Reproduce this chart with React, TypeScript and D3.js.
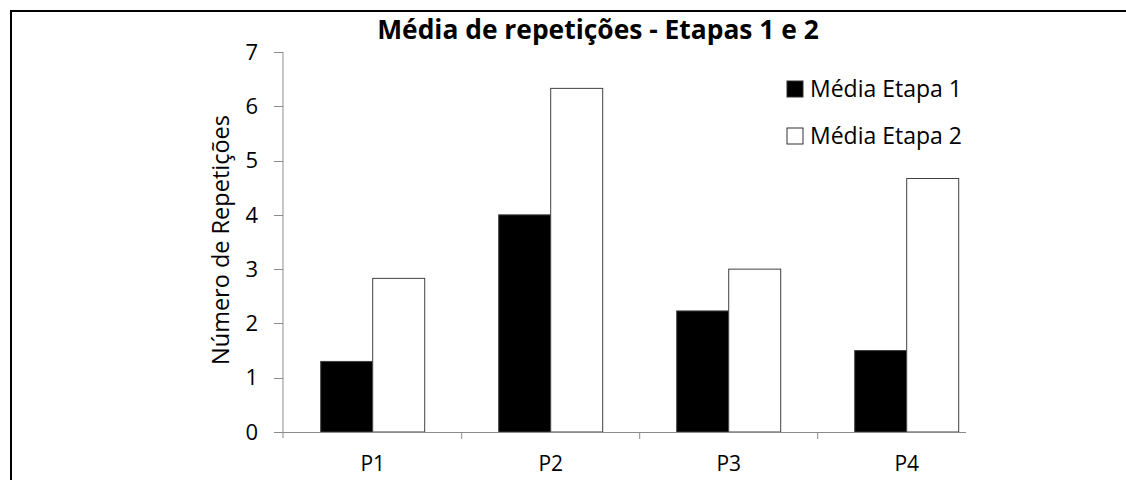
import React from "react";
import * as d3 from "d3";

const categories = ["P1", "P2", "P3", "P4"];
const seriesNames = ["Média Etapa 1", "Média Etapa 2"];
const etapa1 = [1.3, 4.0, 2.23, 1.5];
const etapa2 = [2.83, 6.33, 3.0, 4.67];
const yTicks = [0, 1, 2, 3, 4, 5, 6, 7];

const W = 1126;
const H = 480;
const FONT = "'Open Sans', Lato, sans-serif";

export default function App() {
  const y = d3.scaleLinear().domain([0, 7]).range([432, 52]);
  const x = d3.scaleBand<string>().domain(categories).range([283.7, 995.7]).paddingInner(0).paddingOuter(0);
  const xs = d3.scaleBand<string>().domain(seriesNames).range([0, x.bandwidth()]).paddingInner(0).paddingOuter(0.7115);
  const fills = ["#000000", "#ffffff"];
  const data = [etapa1, etapa2];
  const axisColor = "#8c8c8c";
  const y0 = y(0);

  return (
    <svg width={W} height={H} style={{ position: "absolute", left: 0, top: 0, display: "block" }}>
      <rect x={0} y={0} width={W} height={H} fill="#fff" />
      {/* frame */}
      <line x1={11} y1={11} x2={W} y2={11} stroke="#000" strokeWidth={2} />
      <line x1={11} y1={10} x2={11} y2={H} stroke="#000" strokeWidth={2} />

      {/* title */}
      <text x={598} y={30} dy="0.35em" textAnchor="middle" fontFamily={FONT} fontWeight="bold" fontSize={26.4} fill="#000">
        Média de repetições - Etapas 1 e 2
      </text>

      {/* y axis */}
      <line x1={283} y1={y(7)} x2={283} y2={y0 + 6} stroke={axisColor} strokeWidth={1} />
      {yTicks.map((t) => (
        <g key={t}>
          <line x1={274} x2={283} y1={Math.round(y(t)) + 0.5} y2={Math.round(y(t)) + 0.5} stroke={axisColor} />
          <text x={258} y={y(t)} dy="0.35em" textAnchor="end" fontFamily={FONT} fontSize={22} fill="#000">
            {t}
          </text>
        </g>
      ))}
      <text
        transform={`translate(221, 240) rotate(-90)`}
        dy="0.35em"
        textAnchor="middle"
        fontFamily={FONT}
        fontSize={23.5}
        fill="#000"
      >
        Número de Repetições
      </text>

      {/* bars */}
      {categories.map((c, i) => (
        <g key={c} transform={`translate(${x(c)},0)`}>
          {seriesNames.map((s, j) => (
            <rect
              key={s}
              x={xs(s)}
              y={y(data[j][i])}
              width={xs.bandwidth()}
              height={y0 - y(data[j][i])}
              fill={fills[j]}
              stroke="#404040"
              strokeWidth={1}
            />
          ))}
        </g>
      ))}

      {/* x axis */}
      <line x1={283} x2={966} y1={Math.round(y0) + 0.5} y2={Math.round(y0) + 0.5} stroke={axisColor} />
      {categories.slice(1).map((c) => (
        <line key={c} x1={x(c)} x2={x(c)} y1={y0} y2={y0 + 7} stroke={axisColor} />
      ))}
      {categories.map((c) => (
        <text key={c} x={(x(c) as number) + x.bandwidth() / 2} y={464} dy="0.35em" textAnchor="middle" fontFamily={FONT} fontSize={21} fill="#000">
          {c}
        </text>
      ))}

      {/* legend */}
      {seriesNames.map((s, j) => (
        <g key={s} transform={`translate(787, ${89 + j * 47})`}>
          <rect x={0} y={-8} width={16} height={16} fill={fills[j]} stroke="#303030" strokeWidth={1} />
          <text x={23} y={0} dy="0.35em" fontFamily={FONT} fontSize={23} fill="#000">
            {s}
          </text>
        </g>
      ))}
    </svg>
  );
}
